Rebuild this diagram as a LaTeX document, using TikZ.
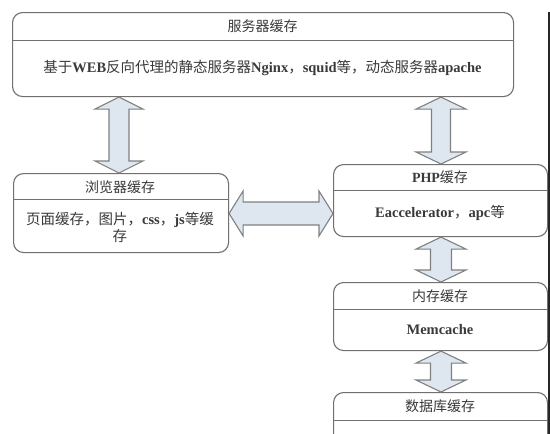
\documentclass[tikz,border=0pt]{standalone}
\usepackage{fontspec}
\setmainfont{Liberation Serif}
\newfontfamily\cjk{Noto Sans CJK SC}
\usetikzlibrary{calc}
\definecolor{boxgray}{HTML}{707070}
\definecolor{arrgray}{HTML}{808080}
\definecolor{arrfill}{HTML}{DEE6F0}
\definecolor{txt}{HTML}{3A3A3A}
\newcommand\zh[1]{{\cjk #1}}
\newcommand\varrow[5]{%
 \draw[arr] let \p1=(#2), \p2=(#3) in
 (#1pt,\y1) -- ({#1pt+#4pt},{\y1-12pt}) -- ({#1pt+#5pt},{\y1-12pt}) -- ({#1pt+#5pt},{\y2+12pt}) -- ({#1pt+#4pt},{\y2+12pt}) -- (#1pt,\y2) -- ({#1pt-#4pt},{\y2+12pt}) -- ({#1pt-#5pt},{\y2+12pt}) -- ({#1pt-#5pt},{\y1-12pt}) -- ({#1pt-#4pt},{\y1-12pt}) -- cycle;}
\newcommand\harrow[5]{%
 \draw[arr] let \p1=(#2), \p2=(#3) in
 (\x1,-#1pt) -- ({\x1+14pt},{-#1pt+#4pt}) -- ({\x1+14pt},{-#1pt+#5pt}) -- ({\x2-14pt},{-#1pt+#5pt}) -- ({\x2-14pt},{-#1pt+#4pt}) -- (\x2,-#1pt) -- ({\x2-14pt},{-#1pt-#4pt}) -- ({\x2-14pt},{-#1pt-#5pt}) -- ({\x1+14pt},{-#1pt-#5pt}) -- ({\x1+14pt},{-#1pt-#4pt}) -- cycle;}
\begin{document}
\begin{tikzpicture}[x=1pt,y=-1pt,
 box/.style={draw=boxgray, line width=1.1pt, rounded corners=10pt, anchor=north west, inner sep=0pt},
 div/.style={draw=boxgray, line width=1pt},
 ttl/.style={text=txt, font=\fontsize{14}{16}\selectfont},
 body/.style={text=txt, font=\fontsize{14.5}{17}\selectfont, align=center},
 arr/.style={draw=arrgray, fill=arrfill, line width=1.1pt, line join=miter}]
\path[use as bounding box, fill=white] (0,0) rectangle (550,434);
\clip (0,0) rectangle (550,434);
% boxes
\node[box, minimum width=501pt, minimum height=84pt] (server) at (12,12) {};
\node[box, minimum width=215pt, minimum height=79pt] (browser) at (13,173) {};
\node[box, minimum width=214pt, minimum height=72pt] (php) at (333,164) {};
\node[box, minimum width=214pt, minimum height=68pt] (mem) at (333,282) {};
\node[box, minimum width=214pt, minimum height=80pt] (db) at (333,392) {};
% dividers
\draw[div] (server.west |- 0,40) -- (server.east |- 0,40);
\draw[div] (browser.west |- 0,199) -- (browser.east |- 0,199);
\draw[div] (php.west |- 0,190) -- (php.east |- 0,190);
\draw[div] (mem.west |- 0,309) -- (mem.east |- 0,309);
\draw[div] (db.west |- 0,420) -- (db.east |- 0,420);
% texts
\node[ttl] (t1) at (262.5,26) {\zh{服务器缓存}};
\node[body] (c1) at (262.5,68) {\zh{基于}\textbf{WEB}\zh{反向代理的静态服务器}\textbf{Nginx}\zh{，}\textbf{squid}\zh{等，动态服务器}\textbf{apache}};
\node[ttl] (t2) at (120,187) {\zh{浏览器缓存}};
\node[body] (c2) at (120,227) {\zh{页面缓存，图片，}\textbf{css}\zh{，}\textbf{js}\zh{等缓}\\\zh{存}};
\node[ttl] (t3) at (440,177) {\textbf{PHP}\zh{缓存}};
\node[body] (c3) at (440,213) {\textbf{Eaccelerator}\zh{，}\textbf{apc}\zh{等}};
\node[ttl] (t4) at (440,296) {\zh{内存缓存}};
\node[body] (c4) at (440,330) {\textbf{Memcache}};
\node[ttl] (t5) at (440,406) {\zh{数据库缓存}};
% arrows
\varrow{119}{server.south}{browser.north}{24}{10}
\varrow{441}{server.south -| php.north}{php.north}{25}{9.5}
\varrow{441}{php.south}{mem.north}{25}{10.5}
\varrow{441}{mem.south}{db.north}{25}{10.5}
\harrow{213.5}{browser.east}{php.west}{22.5}{11.5}
% right edge line
\draw[line width=1.6pt, draw=black!85] (549,12) -- (549,434);
\end{tikzpicture}
\end{document}
